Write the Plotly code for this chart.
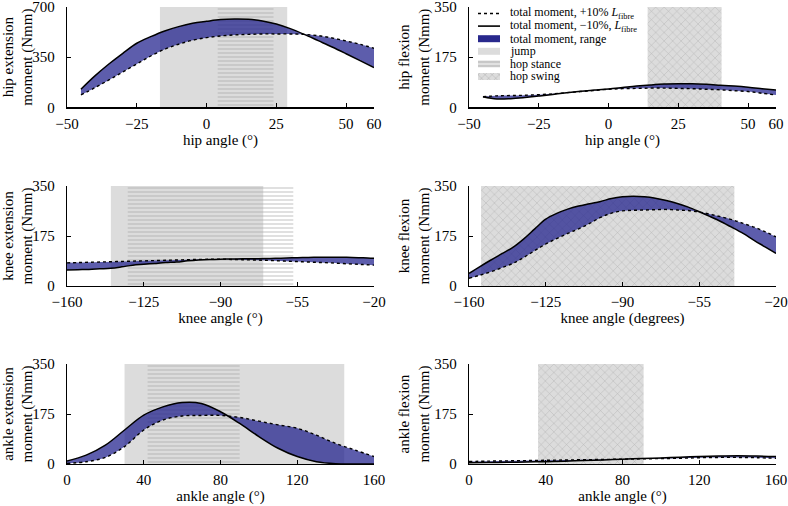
import plotly.graph_objects as go

# ---------------- data ----------------
hip_x = list(range(-45, 61, 5))
hip_ext_plus = [86, 137, 191, 247, 302, 358, 405, 440, 468, 486, 498, 505, 509, 512, 512, 512, 509, 500, 484, 463, 440, 412]
hip_ext_minus = [126, 219, 302, 377, 447, 493, 533, 563, 586, 600, 612, 616, 614, 602, 581, 549, 509, 465, 421, 374, 326, 277]
hip_flex_plus = [37, 40, 41, 42, 44, 47, 51, 55, 59, 63, 65, 66, 67, 67, 66, 65, 63, 61, 58, 55, 49, 43]
hip_flex_minus = [37, 29, 30, 34, 39, 45, 51, 56, 60, 64, 69, 74, 78, 81, 82, 82, 80, 77, 74, 70, 65, 60]

knee_x = list(range(-160, -19, 5))
knee_ext_plus = [81, 82, 83, 84, 85, 86, 87, 88, 89, 90, 91, 92, 93, 93.5, 94, 93, 92, 91, 90, 88.5, 87, 85.5, 84, 82.5, 81, 79, 77, 75, 73]
knee_ext_minus = [56, 57, 58, 60, 62, 67, 73, 76, 79, 82, 84, 88, 91, 93, 94, 94.5, 95, 95.5, 96, 97, 98, 99, 100, 100.5, 101, 100.5, 100, 99, 97]
knee_flex_plus = [27, 38, 50, 64, 79, 100, 124, 147, 166, 184, 200, 219, 240, 255, 263, 265, 266, 267, 268, 266, 264, 259, 251, 242, 232, 219, 206, 190, 172]
knee_flex_minus = [44, 68, 91, 113, 135, 165, 200, 234, 254, 269, 280, 288, 296, 306, 312, 314, 312, 307, 299, 289, 276, 260, 243, 225, 205, 184, 160, 137, 114]

ankle_x = list(range(0, 161, 10))
ankle_ext_plus = [2, 8, 23, 61, 119, 154, 168, 170, 170, 163, 150, 137, 125, 101, 72, 49, 26]
ankle_ext_minus = [10, 31, 66, 119, 171, 200, 215, 212, 183, 142, 96, 55, 26, 8, 1, 0, 0]
ankle_flex_plus = [9, 10, 11, 12, 13, 14, 15, 16, 17, 18, 19, 20, 22, 23, 23, 22, 20]
ankle_flex_minus = [4, 5, 6, 7, 8, 10, 12, 14, 17, 19, 21, 24, 26, 28, 29, 28, 26]

hip_ticks = [-50, -25, 0, 25, 50, 60]
knee_ticks = [-160, -125, -90, -55, -20]
ankle_ticks = [0, 40, 80, 120, 160]
ticks_700 = [0, 350, 700]
ticks_350 = [0, 175, 350]

# phase ranges (start, end) in degrees
hip_ext_jump = [-16.7, 28.9]
hip_ext_stance = [4, 24]
hip_flex_swing = [14, 40.5]
knee_ext_jump = [-140, -70.5]
knee_ext_stance = [-132.3, -56.8]
knee_flex_swing = [-154.5, -39]
ankle_ext_jump = [30, 144.5]
ankle_ext_stance = [42, 90]
ankle_flex_swing = [36, 91]

legend_labels = [
    "total moment, +10% <i>L</i><sub>fibre</sub>",
    "total moment, \u221210%, <i>L</i><sub>fibre</sub>",
    "total moment, range",
    "jump",
    "hop stance",
    "hop swing",
]

# ---------------- styles ----------------
FONT = "Liberation Serif, Times New Roman, Times, serif"
RANGE_FILL = "rgba(30,30,140,0.72)"
JUMP_COL = "rgb(220,220,220)"
STANCE_PAT = dict(shape="-", fgcolor="rgb(165,165,165)", bgcolor="rgba(0,0,0,0)", size=4, solidity=0.35)
SWING_PAT = dict(shape="x", fgcolor="rgb(135,135,135)", bgcolor="rgb(220,220,220)", size=6, solidity=0.15)

W, H = 788, 506
cols = [(67, 374), (469, 776)]
rows = [(7, 107.3), (186, 286), (364, 464)]


def dx(px):
    return px / W


def dy(py):
    return 1 - py / H


panels = [
    dict(x=hip_x, plus=hip_ext_plus, minus=hip_ext_minus, xr=[-50, 60], xt=hip_ticks, yr=[0, 700], yt=ticks_700,
         xtitle="hip angle (\u00b0)", ytitle="hip extension<br>moment (Nmm)", jump=hip_ext_jump, stance=hip_ext_stance, swing=None),
    dict(x=hip_x, plus=hip_flex_plus, minus=hip_flex_minus, xr=[-50, 60], xt=hip_ticks, yr=[0, 350], yt=ticks_350,
         xtitle="hip angle (\u00b0)", ytitle="hip flexion<br>moment (Nmm)", jump=None, stance=None, swing=hip_flex_swing),
    dict(x=knee_x, plus=knee_ext_plus, minus=knee_ext_minus, xr=[-160, -20], xt=knee_ticks, yr=[0, 350], yt=ticks_350,
         xtitle="knee angle (\u00b0)", ytitle="knee extension<br>moment (Nmm)", jump=knee_ext_jump, stance=knee_ext_stance, swing=None),
    dict(x=knee_x, plus=knee_flex_plus, minus=knee_flex_minus, xr=[-160, -20], xt=knee_ticks, yr=[0, 350], yt=ticks_350,
         xtitle="knee angle (degrees)", ytitle="knee flexion<br>moment (Nmm)", jump=None, stance=None, swing=knee_flex_swing),
    dict(x=ankle_x, plus=ankle_ext_plus, minus=ankle_ext_minus, xr=[0, 160], xt=ankle_ticks, yr=[0, 350], yt=ticks_350,
         xtitle="ankle angle (\u00b0)", ytitle="ankle extension<br>moment (Nmm)", jump=ankle_ext_jump, stance=ankle_ext_stance, swing=None),
    dict(x=ankle_x, plus=ankle_flex_plus, minus=ankle_flex_minus, xr=[0, 160], xt=ankle_ticks, yr=[0, 350], yt=ticks_350,
         xtitle="ankle angle (\u00b0)", ytitle="ankle flexion<br>moment (Nmm)", jump=None, stance=None, swing=ankle_flex_swing),
]

fig = go.Figure()
layout = dict(width=W, height=H, margin=dict(l=0, r=0, t=0, b=0, pad=0, autoexpand=False), showlegend=False,
              hovermode=False, plot_bgcolor="rgba(0,0,0,0)", paper_bgcolor="white",
              font=dict(family=FONT, size=15, color="black"))


def rect(span, top):
    a, b = span
    return [a, b, b, a, a], [0, 0, top, top, 0]


for i, p in enumerate(panels):
    n = i + 1
    xa, ya = f"x{n}", f"y{n}"
    c0, c1 = cols[i % 2]
    r0, r1 = rows[i // 2]
    top = p["yr"][1]
    if p["jump"]:
        rx, ry = rect(p["jump"], top)
        fig.add_trace(go.Scatter(x=rx, y=ry, xaxis=xa, yaxis=ya, mode="none", fill="toself",
                                 fillcolor=JUMP_COL, hoverinfo="skip"))
    if p["stance"]:
        rx, ry = rect(p["stance"], top)
        fig.add_trace(go.Scatter(x=rx, y=ry, xaxis=xa, yaxis=ya, mode="none", fill="toself",
                                 fillcolor="rgba(0,0,0,0)", fillpattern=STANCE_PAT, hoverinfo="skip"))
    if p["swing"]:
        rx, ry = rect(p["swing"], top)
        fig.add_trace(go.Scatter(x=rx, y=ry, xaxis=xa, yaxis=ya, mode="none", fill="toself",
                                 fillcolor=JUMP_COL, fillpattern=SWING_PAT, hoverinfo="skip"))
    fig.add_trace(go.Scatter(x=p["x"], y=p["plus"], xaxis=xa, yaxis=ya, mode="lines",
                             line=dict(color="black", width=1.4, dash="dot", shape="spline")))
    fig.add_trace(go.Scatter(x=p["x"], y=p["minus"], xaxis=xa, yaxis=ya, mode="lines", fill="tonexty",
                             fillcolor=RANGE_FILL, line=dict(color="black", width=1.5, shape="spline")))
    axcommon = dict(showline=True, linecolor="black", linewidth=1.3, showgrid=False, zeroline=False,
                    ticks="inside", ticklen=4, tickwidth=1, tickcolor="black", automargin=False,
                    ticklabeloverflow="allow", tickfont=dict(family=FONT, size=15))
    layout[f"xaxis{n}"] = dict(axcommon, domain=[dx(c0), dx(c1)], range=p["xr"], tickvals=p["xt"],
                               ticktext=[str(v).replace("-", "\u2212") for v in p["xt"]],
                               anchor=ya, ticklabelstandoff=2,
                               title=dict(text=p["xtitle"], font=dict(family=FONT, size=15), standoff=1))
    layout[f"yaxis{n}"] = dict(axcommon, domain=[dy(r1), dy(r0)], range=p["yr"], tickvals=p["yt"],
                               anchor=xa, ticklabelstandoff=8,
                               title=dict(text=p["ytitle"], font=dict(family=FONT, size=15), standoff=1))

# ---------------- legend (drawn inside hip flexion panel) ----------------
lx0, lx1, ly0, ly1 = 478, 700, 4, 84
layout["xaxis7"] = dict(domain=[dx(lx0), dx(lx1)], range=[0, lx1 - lx0], visible=False, anchor="y7",
                        fixedrange=True, automargin=False)
layout["yaxis7"] = dict(domain=[dy(ly1), dy(ly0)], range=[ly1 - ly0, 0], visible=False, anchor="x7",
                        fixedrange=True, automargin=False)
row_y = [9.5 + 12.6 * k for k in range(len(legend_labels))]
sw = 22
hh = 3.5
fig.add_trace(go.Scatter(x=[0, sw], y=[row_y[0]] * 2, xaxis="x7", yaxis="y7", mode="lines",
                         line=dict(color="black", width=1.4, dash="dot"), hoverinfo="skip"))
fig.add_trace(go.Scatter(x=[0, sw], y=[row_y[1]] * 2, xaxis="x7", yaxis="y7", mode="lines",
                         line=dict(color="black", width=1.6), hoverinfo="skip"))
swatch_styles = [
    dict(fillcolor="rgb(40,40,140)"),
    dict(fillcolor=JUMP_COL),
    dict(fillcolor="rgb(225,225,225)", fillpattern=dict(shape="-", fgcolor="rgb(140,140,140)", bgcolor="rgb(225,225,225)", size=4, solidity=0.3)),
    dict(fillcolor=JUMP_COL, fillpattern=dict(shape="x", fgcolor="rgb(140,140,140)", bgcolor=JUMP_COL, size=5, solidity=0.2)),
]
for k, st in enumerate(swatch_styles):
    yc = row_y[k + 2]
    fig.add_trace(go.Scatter(x=[0, sw, sw, 0, 0], y=[yc - hh, yc - hh, yc + hh, yc + hh, yc - hh],
                             xaxis="x7", yaxis="y7", mode="none", fill="toself", hoverinfo="skip", **st))

layout["annotations"] = [
    dict(x=sw + 8, y=row_y[k], xref="x7", yref="y7", text=t, showarrow=False, xanchor="left", yanchor="middle",
         font=dict(family=FONT, size=12, color="black"))
    for k, t in enumerate(legend_labels)
]

fig.update_layout(**layout)
# remove the browser's default 8 px body margin so the figure fills the window exactly
fig.write_html("out.html", config={"displayModeBar": False, "staticPlot": True},
               post_script="document.body.style.margin='0px';")
